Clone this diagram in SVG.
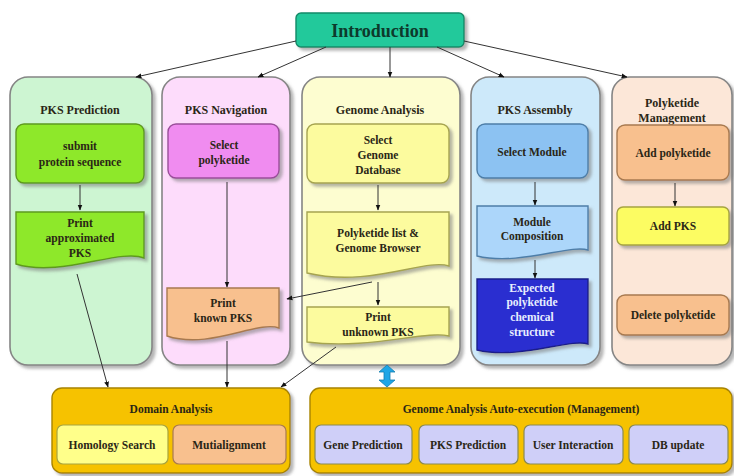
<svg xmlns="http://www.w3.org/2000/svg" width="734" height="476" viewBox="0 0 734 476" font-family="'Liberation Serif', 'DejaVu Serif', serif" font-weight="bold">
  <defs>
    <filter id="shadow" x="-10%" y="-10%" width="130%" height="130%">
      <feDropShadow dx="3" dy="3" stdDeviation="1.5" flood-color="#7a7a7a" flood-opacity="0.55"/>
    </filter>
    <marker id="arrow" viewBox="0 0 10 10" refX="9" refY="5" markerWidth="6" markerHeight="6" orient="auto-start-reverse" markerUnits="userSpaceOnUse">
      <path d="M0,1 L10,5 L0,9 z" fill="#111"/>
    </marker>
    <style>
      text { font-family: 'Liberation Serif', 'DejaVu Serif', serif; font-weight: bold; fill: #2a2616; text-anchor: middle; }
      .t { font-size: 11.5px; }
      .h { font-size: 12px; }
      .intro { font-size: 18px; fill: #0d3a2c; }
      .col { stroke: #858585; stroke-width: 1.6; filter: url(#shadow); }
      .box { stroke-width: 1.4; filter: url(#shadow); }
      .conn { stroke: #333; stroke-width: 1; fill: none; marker-end: url(#arrow); }
      .light { fill: #e8eeff; }
    </style>
  </defs>

  <rect width="734" height="476" fill="#ffffff"/>

  <!-- top node -->
  <g id="introduction">
    <rect x="296" y="13" width="168" height="34" rx="5" fill="#22c99b" stroke="#138a68" class="box"/>
    <text x="380" y="37" class="intro">Introduction</text>
  </g>

  <!-- column: PKS Prediction -->
  <g id="pks-prediction">
    <rect x="10" y="77" width="142" height="288" rx="18" fill="#cdf5d2" class="col"/>
    <text x="80" y="114" class="h">PKS Prediction</text>
    <g id="submit-protein">
      <rect x="16" y="124" width="128" height="59" rx="8" fill="#8ee82a" stroke="#5e9a1e" class="box"/>
      <text x="80" y="150" class="t">submit</text>
      <text x="80" y="166" class="t">protein sequence</text>
    </g>
    <g id="print-approx">
      <path d="M16,212 H144 V258 C120,248 60,278 16,264 Z" fill="#8ee82a" stroke="#5e9a1e" class="box"/>
      <text x="80" y="227" class="t">Print</text>
      <text x="80" y="242" class="t">approximated</text>
      <text x="80" y="257" class="t">PKS</text>
    </g>
  </g>

  <!-- column: PKS Navigation -->
  <g id="pks-navigation">
    <rect x="162" y="77" width="128" height="288" rx="18" fill="#fddcfb" class="col"/>
    <text x="226" y="114" class="h">PKS Navigation</text>
    <g id="select-polyketide">
      <rect x="168" y="124" width="111" height="54" rx="8" fill="#f08cf0" stroke="#9a4e9a" class="box"/>
      <text x="224" y="149" class="t">Select</text>
      <text x="224" y="164" class="t">polyketide</text>
    </g>
    <g id="print-known">
      <path d="M167,288 H279 V328 C258,320 210,350 167,336 Z" fill="#f8c08e" stroke="#a87a50" class="box"/>
      <text x="223" y="307" class="t">Print</text>
      <text x="223" y="322" class="t">known PKS</text>
    </g>
  </g>

  <!-- column: Genome Analysis -->
  <g id="genome-analysis">
    <rect x="302" y="77" width="158" height="288" rx="18" fill="#fdfdd0" class="col"/>
    <text x="380" y="114" class="h">Genome Analysis</text>
    <g id="select-genome">
      <rect x="307" y="124" width="142" height="59" rx="8" fill="#fcfb9e" stroke="#a6a450" class="box"/>
      <text x="378" y="144" class="t">Select</text>
      <text x="378" y="159" class="t">Genome</text>
      <text x="378" y="174" class="t">Database</text>
    </g>
    <g id="polyketide-list">
      <path d="M307,212 H449 V266 C425,258 370,288 307,273 Z" fill="#fcfb9e" stroke="#a6a450" class="box"/>
      <text x="378" y="237" class="t">Polyketide list &amp;</text>
      <text x="378" y="252" class="t">Genome Browser</text>
    </g>
    <g id="print-unknown">
      <path d="M307,307 H449 V336 C425,330 370,350 307,342 Z" fill="#fcfb9e" stroke="#a6a450" class="box"/>
      <text x="378" y="321" class="t">Print</text>
      <text x="378" y="336" class="t">unknown PKS</text>
    </g>
  </g>

  <!-- column: PKS Assembly -->
  <g id="pks-assembly">
    <rect x="471" y="77" width="129" height="288" rx="18" fill="#cde9fa" class="col"/>
    <text x="535" y="114" class="h">PKS Assembly</text>
    <g id="select-module">
      <rect x="477" y="124" width="111" height="54" rx="8" fill="#8cc2f2" stroke="#4e7ea8" class="box"/>
      <text x="532" y="156" class="t">Select Module</text>
    </g>
    <g id="module-composition">
      <path d="M477,206 H588 V250 C570,244 520,266 477,256 Z" fill="#acd6fa" stroke="#4e7ea8" class="box"/>
      <text x="532" y="226" class="t">Module</text>
      <text x="532" y="240" class="t">Composition</text>
    </g>
    <g id="expected-structure">
      <path d="M477,279 H588 V344 C570,338 520,360 477,350 Z" fill="#2b2fd0" stroke="#1a1f8a" class="box"/>
      <text x="532" y="292" class="t light">Expected</text>
      <text x="532" y="306" class="t light">polyketide</text>
      <text x="532" y="321" class="t light">chemical</text>
      <text x="532" y="336" class="t light">structure</text>
    </g>
  </g>

  <!-- column: Polyketide Management -->
  <g id="polyketide-management">
    <rect x="612" y="77" width="120" height="288" rx="18" fill="#fce7d8" class="col"/>
    <text x="672" y="107" class="h">Polyketide</text>
    <text x="672" y="122" class="h">Management</text>
    <g id="add-polyketide">
      <rect x="617" y="125" width="112" height="55" rx="8" fill="#f8c08e" stroke="#a87a50" class="box"/>
      <text x="673" y="157" class="t">Add polyketide</text>
    </g>
    <g id="add-pks">
      <rect x="617" y="207" width="112" height="38" rx="6" fill="#fcfc62" stroke="#a6a440" class="box"/>
      <text x="673" y="230" class="t">Add PKS</text>
    </g>
    <g id="delete-polyketide">
      <rect x="617" y="295" width="112" height="40" rx="8" fill="#f8c08e" stroke="#a87a50" class="box"/>
      <text x="673" y="319" class="t">Delete polyketide</text>
    </g>
  </g>

  <!-- bottom: Domain Analysis -->
  <g id="domain-analysis">
    <rect x="52" y="388" width="238" height="85" rx="10" fill="#f6c200" stroke="#a88400" class="box"/>
    <text x="171" y="413" class="t">Domain Analysis</text>
    <g id="homology-search">
      <rect x="57" y="425" width="111" height="39" rx="6" fill="#ffff8a" stroke="#a6a440" stroke-width="1.2"/>
      <text x="112" y="449" class="t">Homology Search</text>
    </g>
    <g id="mutialignment">
      <rect x="173" y="425" width="113" height="39" rx="6" fill="#f8c08e" stroke="#a87a50" stroke-width="1.2"/>
      <text x="229" y="449" class="t">Mutialignment</text>
    </g>
  </g>

  <!-- bottom: Genome Analysis Auto-execution -->
  <g id="auto-execution">
    <rect x="310" y="388" width="422" height="85" rx="10" fill="#f6c200" stroke="#a88400" class="box"/>
    <text x="521" y="413" class="t">Genome Analysis Auto-execution (Management)</text>
    <g id="gene-prediction">
      <rect x="315" y="425" width="97" height="39" rx="6" fill="#cfcff8" stroke="#8a8a50" stroke-width="1.2"/>
      <text x="363" y="449" class="t">Gene Prediction</text>
    </g>
    <g id="auto-pks-prediction">
      <rect x="419" y="425" width="99" height="39" rx="6" fill="#cfcff8" stroke="#8a8a50" stroke-width="1.2"/>
      <text x="468" y="449" class="t">PKS Prediction</text>
    </g>
    <g id="user-interaction">
      <rect x="524" y="425" width="99" height="39" rx="6" fill="#cfcff8" stroke="#8a8a50" stroke-width="1.2"/>
      <text x="573" y="449" class="t">User Interaction</text>
    </g>
    <g id="db-update">
      <rect x="629" y="425" width="99" height="39" rx="6" fill="#cfcff8" stroke="#8a8a50" stroke-width="1.2"/>
      <text x="678" y="449" class="t">DB update</text>
    </g>
  </g>

  <!-- connectors -->
  <g id="connectors">
    <line x1="296" y1="41" x2="136" y2="77" class="conn"/>
    <line x1="326" y1="47" x2="258" y2="77" class="conn"/>
    <line x1="390" y1="47" x2="390" y2="77" class="conn"/>
    <line x1="437" y1="47" x2="504" y2="77" class="conn"/>
    <line x1="464" y1="41" x2="627" y2="77" class="conn"/>

    <line x1="80" y1="185" x2="80" y2="210" class="conn"/>
    <line x1="227" y1="182" x2="227" y2="287" class="conn"/>
    <line x1="378" y1="185" x2="378" y2="210" class="conn"/>
    <line x1="378" y1="282" x2="378" y2="305" class="conn"/>
    <polyline points="372,282 287,299" class="conn"/>
    <line x1="535" y1="182" x2="535" y2="205" class="conn"/>
    <line x1="535" y1="260" x2="535" y2="278" class="conn"/>
    <line x1="675" y1="183" x2="675" y2="206" class="conn"/>

    <line x1="77" y1="274" x2="108" y2="387" class="conn"/>
    <line x1="227" y1="341" x2="227" y2="387" class="conn"/>
    <line x1="336" y1="347" x2="281" y2="387" class="conn"/>

    <!-- two-way link between Genome Analysis and auto-execution -->
    <path d="M387,365 L395,372 L390,372 L390,380 L395,380 L387,387 L379,380 L384,380 L384,372 L379,372 Z" fill="#1fa6e6" stroke="#137fb0" stroke-width="0.8"/>
  </g>
</svg>
